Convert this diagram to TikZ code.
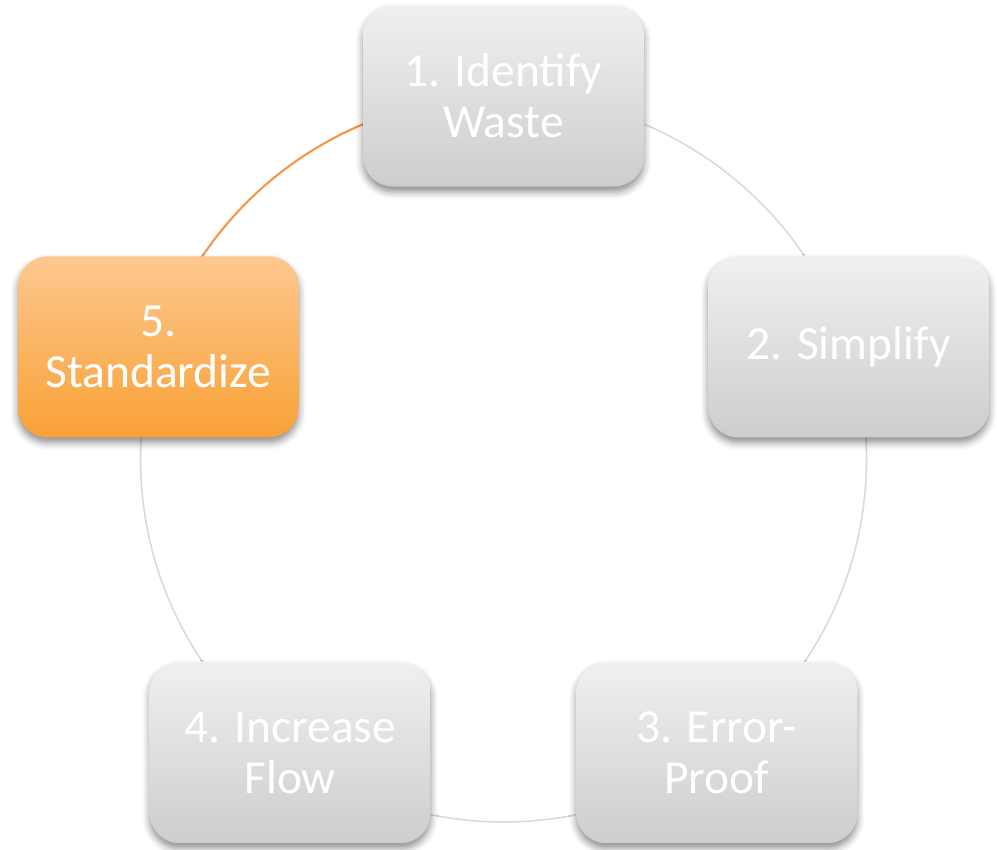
\documentclass[tikz,border=0pt]{standalone}
\usepackage{fontspec}
\setmainfont{Carlito}
\usetikzlibrary{shadows.blur}

\definecolor{boxtop}{HTML}{F0F0F0}
\definecolor{boxbottom}{HTML}{CDCDCD}
\definecolor{hottop}{HTML}{FDC88F}
\definecolor{hotbottom}{HTML}{F9A136}
\definecolor{ringgray}{HTML}{DADADA}
\definecolor{ringorange}{HTML}{F79646}

\tikzset{
  stagebox/.style = {rounded corners = 0.6cm, minimum width = 5.62cm,
    minimum height = 3.62cm, inner sep = 0pt, align = center, text = white,
    font = \fontsize{27}{29}\selectfont, top color = boxtop, bottom color = boxbottom,
    blur shadow = {shadow xshift = 0pt, shadow yshift = -3pt,
      shadow blur radius = 4pt, shadow opacity = 45}},
  hotbox/.style = {stagebox, top color = hottop, bottom color = hotbottom},
  ring/.style = {ringgray, line width = 0.9pt},
  hotring/.style = {ringorange, line width = 1.2pt}
}

\begin{document}
\begin{tikzpicture}
  \useasboundingbox (0, 0) rectangle (19.94, -17);
  \begin{scope}[shift = {(10.07, -9.18)}]
    \coordinate (hub) at (0, 0);
    % the cycle
    \draw[ring] (hub) ++(90:7.26) arc (90:-198:7.26);
    \draw[hotring] (hub) ++(162:7.26) arc (162:90:7.26);
    % the five steps
    \node[stagebox] (identify) at (90:7.26) {1. Identify\\Waste};
    \node[stagebox] (simplify) at (18:7.26) {2. Simplify};
    \node[stagebox] (errorproof) at (-54:7.26) {3. Error-\\Proof};
    \node[stagebox] (flow) at (-126:7.26) {4. Increase\\Flow};
    \node[hotbox] (standardize) at (162:7.26) {5.\\Standardize};
  \end{scope}
\end{tikzpicture}
\end{document}
